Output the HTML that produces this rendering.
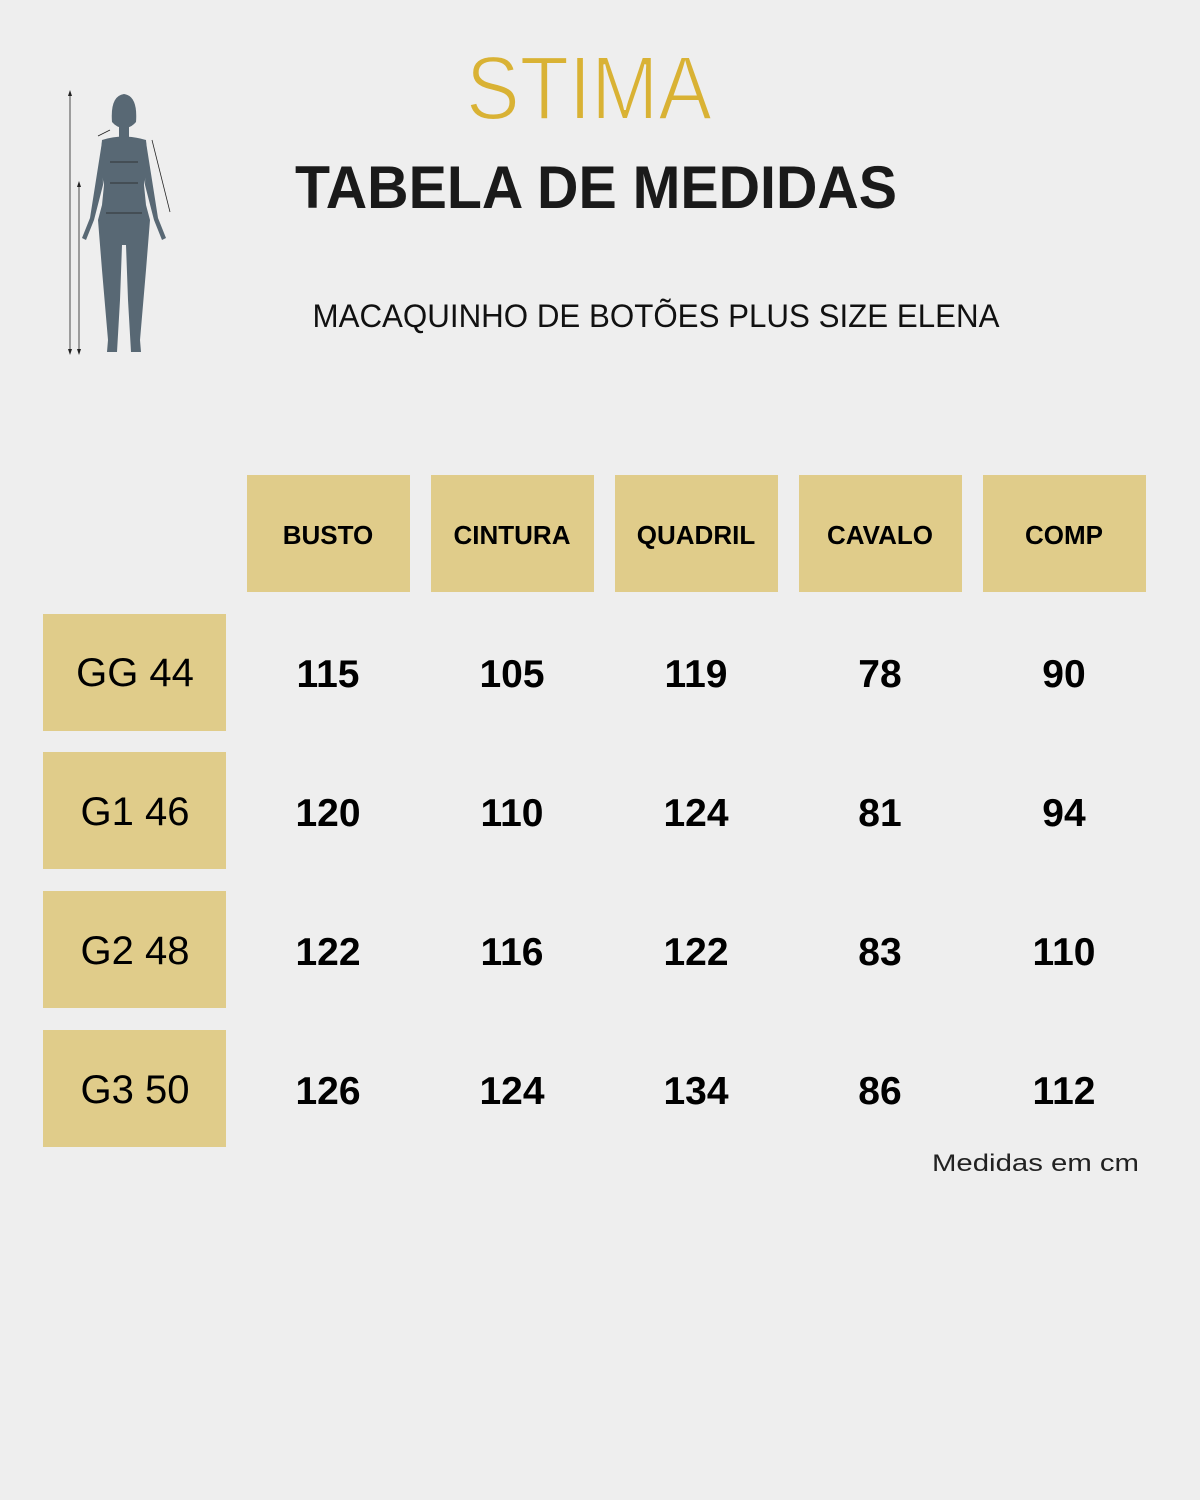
<!DOCTYPE html>
<html><head><meta charset="utf-8"><style>
html,body{margin:0;padding:0;background:#eeeeee;}
svg{display:block;}
</style></head><body>
<svg width="1200" height="1500" viewBox="0 0 1200 1500" xmlns="http://www.w3.org/2000/svg" font-family="Liberation Sans, sans-serif">
<rect width="1200" height="1500" fill="#eeeeee"/>
<text x="589" y="119" text-anchor="middle" font-size="90" fill="#d9b234" textLength="246" lengthAdjust="spacingAndGlyphs" stroke="#eeeeee" stroke-width="2">STIMA</text>
<text x="596" y="208" text-anchor="middle" font-size="60" font-weight="bold" fill="#1a1a1a" textLength="602" lengthAdjust="spacingAndGlyphs">TABELA DE MEDIDAS</text>
<text x="656" y="327" text-anchor="middle" font-size="32" fill="#111" textLength="687" lengthAdjust="spacingAndGlyphs">MACAQUINHO DE BOTÕES PLUS SIZE ELENA</text>
<!-- figure -->
<g fill="#586874">
<path d="M112 122 Q110 96 124 94 Q138 96 136 122 Q131 128 124 128 Q117 128 112 122 Z"/>
<rect x="119" y="124" width="10" height="14"/>
<path d="M102 140 Q124 133 146 140 L148 165 L144 185 L146 205 L150 220 L146 270 L140 340 L141 352 L131 352 L128 300 L126 245 L122 245 L120 300 L117 352 L107 352 L108 340 L102 270 L98 220 L102 205 L104 185 L100 165 Z"/>
<path d="M102 142 L96 180 L90 218 L82 238 L86 240 L94 220 L103 185 Z"/>
<path d="M146 142 L152 180 L158 218 L166 238 L162 240 L154 220 L145 185 Z"/>
</g>
<g stroke="#222" stroke-width="0.8">
<line x1="70" y1="92" x2="70" y2="353"/>
<line x1="79" y1="183" x2="79" y2="353"/>
<line x1="152" y1="140" x2="170" y2="212"/>
<line x1="98" y1="136" x2="110" y2="130"/>
<line x1="110" y1="162" x2="138" y2="162"/>
<line x1="110" y1="183" x2="138" y2="183"/>
<line x1="106" y1="213" x2="142" y2="213"/>
</g>
<g fill="#222">
<path d="M70 90 L68 96 L72 96 Z"/><path d="M70 355 L68 349 L72 349 Z"/>
<path d="M79 181 L77 187 L81 187 Z"/><path d="M79 355 L77 349 L81 349 Z"/>
</g>
<g fill="#e0cc8a">
<rect x="247" y="475" width="163" height="117"/>
<rect x="431" y="475" width="163" height="117"/>
<rect x="615" y="475" width="163" height="117"/>
<rect x="799" y="475" width="163" height="117"/>
<rect x="983" y="475" width="163" height="117"/>
<rect x="43" y="614" width="183" height="117"/>
<rect x="43" y="752" width="183" height="117"/>
<rect x="43" y="891" width="183" height="117"/>
<rect x="43" y="1030" width="183" height="117"/>
</g>
<g font-size="26" font-weight="bold" fill="#000" text-anchor="middle">
<text x="328" y="544">BUSTO</text>
<text x="512" y="544">CINTURA</text>
<text x="696" y="544">QUADRIL</text>
<text x="880" y="544">CAVALO</text>
<text x="1064" y="544">COMP</text>
</g>
<g font-size="40" fill="#000" text-anchor="middle">
<text x="135" y="686">GG 44</text>
<text x="135" y="825">G1 46</text>
<text x="135" y="964">G2 48</text>
<text x="135" y="1103">G3 50</text>
</g>
<g font-size="39" font-weight="bold" fill="#000" text-anchor="middle">
<text x="328" y="687">115</text><text x="512" y="687">105</text><text x="696" y="687">119</text><text x="880" y="687">78</text><text x="1064" y="687">90</text>
<text x="328" y="826">120</text><text x="512" y="826">110</text><text x="696" y="826">124</text><text x="880" y="826">81</text><text x="1064" y="826">94</text>
<text x="328" y="965">122</text><text x="512" y="965">116</text><text x="696" y="965">122</text><text x="880" y="965">83</text><text x="1064" y="965">110</text>
<text x="328" y="1104">126</text><text x="512" y="1104">124</text><text x="696" y="1104">134</text><text x="880" y="1104">86</text><text x="1064" y="1104">112</text>
</g>
<text x="1139" y="1171" text-anchor="end" font-size="24" fill="#222" textLength="207" lengthAdjust="spacingAndGlyphs">Medidas em cm</text>
</svg>
</body></html>
